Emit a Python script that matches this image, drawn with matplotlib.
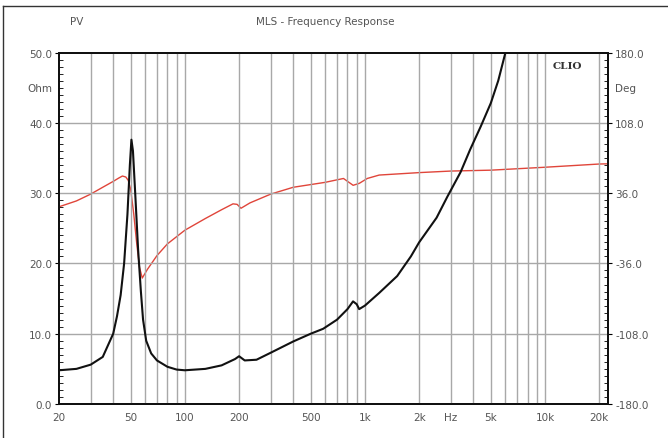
import matplotlib
matplotlib.use("Agg")
import matplotlib.pyplot as plt
from matplotlib.lines import Line2D
import numpy as np

# impedance magnitude (Ohm, left axis)
imp_freq = [20, 25, 30, 35, 40, 42, 44, 46, 48, 49.5, 50.5, 51.5, 53, 55, 57, 58.6, 61,
            65, 70, 80, 90, 100, 130, 160, 190, 200, 215, 250, 300, 400, 500, 586, 700,
            800, 859, 900, 929, 1000, 1200, 1510, 1800, 2000, 2500, 2870, 3400, 3840,
            4400, 5000, 5500, 6100]
imp_ohm = [4.8, 5.0, 5.6, 6.7, 10.0, 12.5, 15.5, 20.0, 27.0, 34.0, 37.6, 36.0, 30.0,
           22.0, 16.0, 12.0, 9.0, 7.2, 6.2, 5.3, 4.9, 4.8, 5.0, 5.5, 6.4, 6.8, 6.2, 6.3,
           7.3, 8.9, 10.0, 10.7, 12.0, 13.5, 14.6, 14.2, 13.5, 14.0, 15.8, 18.2, 21.0,
           23.0, 26.5, 29.5, 33.0, 36.2, 39.5, 42.8, 46.0, 50.5]

# impedance phase (Deg, right axis)
ph_freq = [20, 25, 30, 35, 40, 43, 45, 47, 48.5, 50, 52, 54, 56, 58, 62, 70, 80, 100,
           130, 160, 185, 195, 205, 230, 300, 400, 600, 760, 860, 930, 1030, 1200, 2000,
           3000, 5000, 10000, 20000, 22400]
ph_deg = [22, 28, 35, 42, 48, 51.5, 53.5, 52.5, 49, 40, 15, -15, -40, -51, -42, -28,
          -16, -2, 10, 19, 25, 24.5, 20.5, 26, 35, 42, 47, 51, 44, 46, 51, 54.5, 57,
          58.6, 59.5, 62.5, 65.8, 66]

x_ticks = [20, 50, 100, 200, 500, 1000, 2000, 3000, 5000, 10000, 20000]
x_labels = ["20", "50", "100", "200", "500", "1k", "2k", "Hz", "5k", "10k", "20k"]
ohm_ticks = [0, 10, 20, 30, 40, 50]
deg_ticks = [-180, -108, -36, 36, 108, 180]

txt = "#555555"
grid_c = "#a8a8a8"
fs = 7.5

fig = plt.figure(figsize=(6.68, 4.39), dpi=100)
ax = fig.add_axes([0.0883, 0.0774, 0.822, 0.8007])
ax2 = ax.twinx()

# vertical grid: every 1-2-3...9 step in each decade
vlines = [m * 10 ** d for d in range(1, 5) for m in range(1, 10) if 20 < m * 10 ** d <= 20000]
for v in vlines:
    ax.axvline(v, color=grid_c, lw=1.0, zorder=1)
for h in [10, 20, 30, 40]:
    ax.axhline(h, color=grid_c, lw=1.0, zorder=1)

ax2.plot(ph_freq, ph_deg, color="#e0453a", lw=1.0, zorder=3)
ax.plot(imp_freq, imp_ohm, color="#111111", lw=1.5, zorder=4)
ax.set_zorder(ax2.get_zorder() + 1)
ax.patch.set_visible(False)

ax.set_xscale("log")
ax.set_xlim(20, 22400)
ax.set_ylim(0, 50)
ax2.set_ylim(-180, 180)

ax.set_xticks(x_ticks)
ax.set_xticklabels(x_labels)
ax.xaxis.set_minor_locator(matplotlib.ticker.NullLocator())
ax.set_yticks(ohm_ticks)
ax.set_yticklabels(["%.1f" % t for t in ohm_ticks])
ax.set_yticks(np.arange(0, 50.5, 1), minor=True)
ax2.set_yticks(deg_ticks)
ax2.set_yticklabels(["%.1f" % t for t in deg_ticks])
ax2.set_yticks(np.arange(-180, 181, 7.2), minor=True)

ax.tick_params(axis="x", length=0, pad=6, labelsize=fs, labelcolor=txt)
ax.tick_params(axis="y", which="major", direction="out", length=3, width=0.8,
               pad=2, labelsize=fs, labelcolor=txt)
ax.tick_params(axis="y", which="minor", direction="in", length=3, width=0.6)
ax2.tick_params(axis="y", which="major", direction="out", length=3, width=0.8,
                pad=2, labelsize=fs, labelcolor=txt)
ax2.tick_params(axis="y", which="minor", direction="in", length=3, width=0.6)

for a in (ax, ax2):
    for s in a.spines.values():
        s.set_color("#111111")
        s.set_linewidth(1.4)

ax.text(-0.012, 0.9, "Ohm", transform=ax.transAxes, ha="right", va="center",
        fontsize=fs, color=txt)
ax2.text(1.012, 0.9, "Deg", transform=ax.transAxes, ha="left", va="center",
         fontsize=fs, color=txt)
ax.text(0.925, 0.963, "CLIO", transform=ax.transAxes, ha="center", va="center",
        fontsize=7.5, fontweight="bold", color="#333333", family="DejaVu Serif",
        zorder=6, bbox=dict(facecolor="white", edgecolor="none", pad=2.5))

fig.text(70 / 668, 1 - 22 / 439, "PV", ha="left", va="center", fontsize=fs, color=txt)
fig.text(325 / 668, 1 - 22 / 439, "MLS - Frequency Response", ha="center", va="center",
         fontsize=fs, color=txt)

# outer frame: only the top and left edges show in the picture
top_y = 1 - 7 / 439
left_x = 3 / 668
fig.lines.append(Line2D([left_x, 1.0], [top_y, top_y], transform=fig.transFigure,
                        color="#333333", lw=1.0))
fig.lines.append(Line2D([left_x, left_x], [0.0, top_y], transform=fig.transFigure,
                        color="#333333", lw=1.0))

fig.savefig("out.png", dpi=100)
